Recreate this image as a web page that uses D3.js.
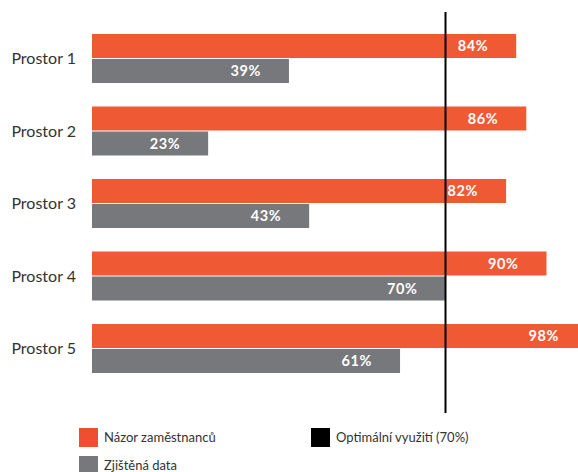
<!DOCTYPE html>
<html><head><meta charset="utf-8">
<script src="https://cdn.jsdelivr.net/npm/d3@7"></script>
<style>
html,body{margin:0;padding:0;background:#fff;}
svg{display:block;}
</style></head>
<body>
<svg id="chart" width="578" height="472"></svg>
<script>
const categories = ["Prostor 1","Prostor 2","Prostor 3","Prostor 4","Prostor 5"];
const seriesNames = ["Názor zaměstnanců","Zjištěná data"];
const nazorValues = [84, 86, 82, 90, 98];
const zjistenaValues = [39, 23, 43, 70, 61];
const optimalValue = 70;
const optimalLabel = "Optimální využití (70%)";
const colors = ["#EF5A35", "#76787B"];

const svg = d3.select("#chart");
const x = d3.scaleLinear().domain([0, 100]).range([92, 597]);
const y = d3.scaleBand().domain(categories).range([34, 373]).paddingInner(23.5/72.5).paddingOuter(0);
const sub = d3.scaleBand().domain(seriesNames).range([0, y.bandwidth()]).paddingInner(0.04);

const rows = categories.map((c, i) => ({cat: c, vals: [nazorValues[i], zjistenaValues[i]]}));

const g = svg.append("g");
const groups = g.selectAll("g.grp").data(rows).join("g").attr("class","grp")
  .attr("transform", d => `translate(0,${y(d.cat)})`);

groups.selectAll("rect").data(d => d.vals.map((v, j) => ({v, s: seriesNames[j], j})))
  .join("rect")
  .attr("x", x(0))
  .attr("y", d => sub(d.s))
  .attr("width", d => x(d.v) - x(0))
  .attr("height", sub.bandwidth())
  .attr("fill", d => colors[d.j]);

groups.append("text")
  .attr("x", 76)
  .attr("y", y.bandwidth()/2)
  .attr("dy", "0.35em")
  .attr("text-anchor", "end")
  .attr("fill", "#333")
  .style("font-family", "Lato, sans-serif")
  .style("font-size", "16px")
  .text(d => d.cat);

svg.append("line")
  .attr("x1", x(optimalValue)).attr("x2", x(optimalValue))
  .attr("y1", 12).attr("y2", 413)
  .attr("stroke", "#000").attr("stroke-width", 2);

const lblG = svg.append("g");
rows.forEach(r => {
  r.vals.forEach((v, j) => {
    lblG.append("text")
      .attr("x", x(v) - 28)
      .attr("y", y(r.cat) + sub(seriesNames[j]) + sub.bandwidth()/2)
      .attr("dy", "0.36em")
      .attr("text-anchor", "end")
      .attr("fill", "#fff")
      .style("font-family", "Lato, sans-serif")
      .style("font-weight", "700")
      .style("font-size", "14.5px")
      .style("letter-spacing", "0.6px")
      .text(v + "%");
  });
});

const legendItems = [
  {label: seriesNames[0], color: "#F04E30", lx: 79, ly: 428},
  {label: seriesNames[1], color: "#77787B", lx: 79, ly: 456},
  {label: optimalLabel, color: "#000", lx: 311, ly: 428}
];
const lg = svg.append("g").selectAll("g").data(legendItems).join("g")
  .attr("transform", d => `translate(${d.lx},${d.ly})`);
lg.append("rect").attr("width", 19).attr("height", 19).attr("fill", d => d.color);
lg.append("text").attr("x", 25).attr("y", 9.5).attr("dy", "0.35em")
  .attr("fill", "#333")
  .style("font-family", "Lato, sans-serif")
  .style("font-size", "13px")
  .text(d => d.label);
</script>
</body></html>
